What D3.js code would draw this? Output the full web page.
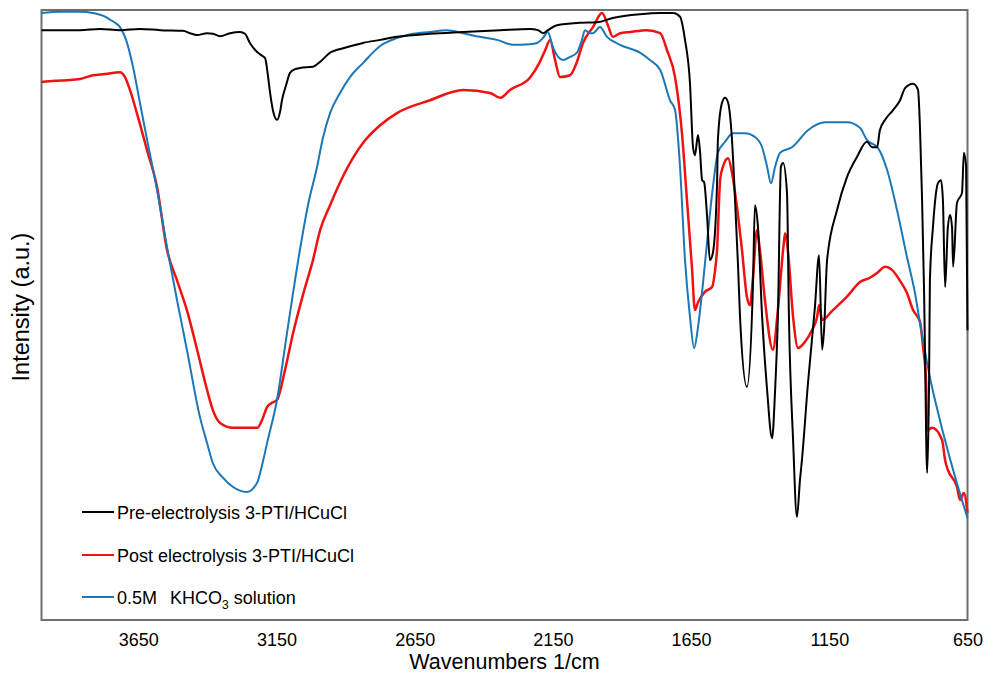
<!DOCTYPE html>
<html>
<head>
<meta charset="utf-8">
<script src="https://cdn.jsdelivr.net/npm/d3@7"></script>
<style>
  html, body { margin: 0; padding: 0; background: #fff; }
  svg { display: block; font-family: "Liberation Sans", Arial, sans-serif; }
</style>
</head>
<body>
<svg id="chart" width="987" height="674"></svg>
<script>
// ---- Data (wavenumber in 1/cm, intensity in a.u. on a 0-100 scale) ----
const seriesNames = ["Pre-electrolysis 3-PTI/HCuCl", "Post electrolysis 3-PTI/HCuCl", "0.5M KHCO3 solution"];
const xTicks = [3650, 3150, 2650, 2150, 1650, 1150, 650];

const preWn = [4000,3933,3861,3788,3716,3644,3571,3488,3463,3437,3401,3380,3354,3318,3282,3264,3246,3220,3202,3191,3181,3173,3163,3148,3137,3130,3115,3101,3083,3065,3018,2992,2956,2902,2837,2775,2714,2595,2475,2341,2233,2204,2186,2168,2135,2052,1990,1933,1835,1762,1715,1690,1672,1654,1643,1636,1625,1618,1610,1603,1592,1582,1571,1556,1553,1538,1527,1516,1502,1491,1480,1473,1448,1426,1419,1408,1393,1375,1357,1346,1336,1325,1317,1303,1296,1281,1267,1256,1249,1227,1202,1187,1176,1169,1158,1122,1086,1050,1014,995,977,967,948,919,894,876,847,829,822,815,807,804,796,789,786,775,757,746,739,731,721,713,706,702,688,670,663,655,650];
const preVal = [96.7,96.7,96.7,96.9,96.7,96.9,96.7,96.6,96.2,95.9,96.2,96.1,95.7,96.2,96.4,96.1,94.6,93.1,92.5,92.1,89.3,86.4,83.6,82.0,83.3,85.2,87.7,89.7,90.3,90.5,90.7,91.5,93.0,93.8,94.6,95.1,95.6,96.1,96.4,96.7,96.9,96.7,96.2,96.7,97.5,97.9,98.0,98.7,99.3,99.5,99.5,98.9,95.1,88.0,77.5,76.2,79.5,77.0,72.1,71.8,66.1,59.0,60.2,71.6,78.7,84.8,85.6,84.8,78.7,68.9,57.9,49.7,38.2,55.2,68.0,64.4,49.7,37.7,29.8,37.7,49.7,74.3,74.9,70.0,49.7,29.5,16.9,23.0,26.2,38.9,51.3,59.8,44.3,47.5,59.0,67.2,72.6,75.9,78.4,77.5,77.5,80.3,82.0,83.6,85.2,87.2,87.9,86.9,80.8,70.0,53.6,44.8,24.1,39.3,55.7,64.4,71.6,72.1,68.9,54.6,64.4,66.4,64.4,57.9,68.4,70.0,76.6,74.3,47.5];

const postWn = [4000,3951,3908,3861,3814,3770,3716,3698,3680,3655,3618,3582,3546,3510,3474,3437,3401,3380,3354,3307,3264,3220,3202,3184,3166,3148,3119,3090,3054,3018,2992,2956,2902,2837,2775,2714,2595,2475,2377,2341,2305,2233,2197,2178,2160,2142,2124,2088,2063,2041,2005,1972,1951,1933,1907,1871,1810,1762,1737,1708,1683,1665,1647,1636,1625,1600,1574,1563,1556,1545,1535,1516,1502,1484,1466,1448,1437,1426,1412,1401,1383,1354,1336,1317,1310,1299,1281,1263,1238,1213,1194,1187,1176,1137,1086,1039,1003,977,948,923,894,869,847,822,811,800,796,778,742,731,721,688,677,663,650];
const postVal = [88.2,88.4,88.5,88.7,89.3,89.5,89.8,89.0,86.9,83.1,77.0,71.0,60.7,55.7,50.8,44.3,37.7,34.4,32.3,31.5,31.5,31.5,32.8,34.9,35.6,36.1,41.0,47.0,53.3,59.0,63.9,68.0,73.4,78.2,81.1,83.1,85.2,86.9,86.4,85.6,86.9,88.9,91.5,93.4,95.1,91.8,89.0,89.3,91.5,94.6,97.2,99.5,97.5,95.6,96.2,96.4,96.7,96.2,93.4,89.0,79.8,68.9,57.9,50.8,52.1,53.8,54.6,57.4,60.7,72.1,74.3,75.7,73.3,67.7,60.7,53.0,51.6,56.2,63.9,60.7,52.5,44.3,50.8,60.7,63.4,60.2,49.7,44.6,45.6,47.5,49.7,51.6,49.2,50.8,53.0,55.4,56.1,56.9,57.9,57.4,55.6,53.6,50.8,48.9,44.8,39.3,31.1,31.5,29.5,26.2,24.6,21.8,19.7,20.8,17.5];

const kWn = [4000,3933,3861,3814,3770,3752,3734,3716,3694,3669,3644,3618,3582,3546,3510,3474,3427,3401,3380,3343,3307,3257,3220,3202,3184,3148,3112,3065,3036,3003,2982,2956,2920,2884,2837,2775,2714,2656,2595,2533,2475,2414,2352,2294,2233,2207,2186,2168,2150,2113,2088,2063,2045,2034,2016,2005,1980,1954,1907,1835,1799,1762,1726,1708,1690,1672,1654,1639,1625,1607,1589,1571,1553,1527,1498,1455,1419,1393,1375,1361,1346,1328,1285,1227,1165,1086,1039,1014,974,941,905,869,840,822,786,750,702,650];
const kVal = [99.5,99.7,99.7,99.5,98.9,98.4,97.9,97.2,95.1,90.7,84.8,78.7,70.5,61.1,52.5,44.3,33.3,29.0,25.7,23.3,21.8,21.0,22.5,25.4,29.0,36.1,47.0,60.7,68.0,74.3,79.0,83.1,86.4,89.0,91.3,94.1,95.4,96.1,96.4,96.7,96.2,95.6,95.1,94.3,94.4,94.6,95.4,96.4,93.9,91.8,92.3,93.0,95.1,96.7,96.2,96.2,97.2,95.6,94.3,93.0,91.8,90.2,85.2,83.6,74.3,59.0,49.7,44.6,48.0,55.2,63.4,71.0,76.6,78.4,79.8,79.8,79.2,77.5,74.3,71.6,74.3,76.6,77.5,80.3,81.6,81.6,80.7,78.7,77.4,73.8,67.2,59.5,53.6,48.7,39.8,32.8,24.6,16.7];

const colors = ["#000000", "#f01212", "#1b77b7"];
const widths = [2, 2.5, 2];

// ---- Layout ----
const W = 987, H = 674;
const margin = {left: 41.5, right: 19.5, top: 10, bottom: 54};
const svg = d3.select("#chart");

const x = d3.scaleLinear().domain([4000, 650]).range([margin.left, W - margin.right]);
const y = d3.scaleLinear().domain([0, 100]).range([H - margin.bottom, margin.top]);

// frame
svg.append("rect")
  .attr("x", margin.left).attr("y", margin.top)
  .attr("width", W - margin.left - margin.right)
  .attr("height", H - margin.top - margin.bottom)
  .attr("fill", "none").attr("stroke", "#6e6e6e").attr("stroke-width", 2);

// x axis (labels only)
const xAxis = d3.axisBottom(x).tickValues(xTicks).tickSize(0).tickPadding(13).tickFormat(d3.format("d"));
const gx = svg.append("g").attr("transform", `translate(0,${H - margin.bottom})`).call(xAxis);
gx.select(".domain").remove();
gx.selectAll("text").attr("font-size", 18).attr("fill", "#000")
  .attr("font-family", "Liberation Sans, Arial, sans-serif");

// axis titles
svg.append("text").attr("x", (margin.left + W - margin.right) / 2).attr("y", 669)
  .attr("text-anchor", "middle").attr("font-size", 21.5).attr("fill", "#000")
  .text("Wavenumbers 1/cm");
svg.append("text").attr("transform", "translate(29,307) rotate(-90)")
  .attr("text-anchor", "middle").attr("font-size", 23.5).attr("fill", "#000")
  .text("Intensity (a.u.)");

// curves
const seriesData = [
  preWn.map((w, i) => [w, preVal[i]]),
  postWn.map((w, i) => [w, postVal[i]]),
  kWn.map((w, i) => [w, kVal[i]])
];
const line = d3.line().x(d => x(d[0])).y(d => y(d[1])).curve(d3.curveMonotoneX);
const drawOrder = [1, 2, 0];
drawOrder.forEach(i => {
  svg.append("path").datum(seriesData[i])
    .attr("d", line).attr("fill", "none")
    .attr("stroke", colors[i]).attr("stroke-width", widths[i])
    .attr("stroke-linejoin", "round");
});

// legend
const legY = [512, 555, 597];
seriesNames.forEach((name, i) => {
  svg.append("line").attr("x1", 82).attr("x2", 114).attr("y1", legY[i]).attr("y2", legY[i])
    .attr("stroke", colors[i]).attr("stroke-width", 2);
  const t = svg.append("text").attr("x", 117).attr("y", legY[i] + 7)
    .attr("font-size", 18).attr("fill", "#000");
  if (i < 2) {
    t.text(name);
  } else {
    t.append("tspan").text("0.5M");
    t.append("tspan").attr("dx", 13).text("KHCO");
    t.append("tspan").attr("font-size", 12).attr("dy", 5).text("3");
    t.append("tspan").attr("dy", -5).text(" solution");
  }
});
</script>
</body>
</html>
